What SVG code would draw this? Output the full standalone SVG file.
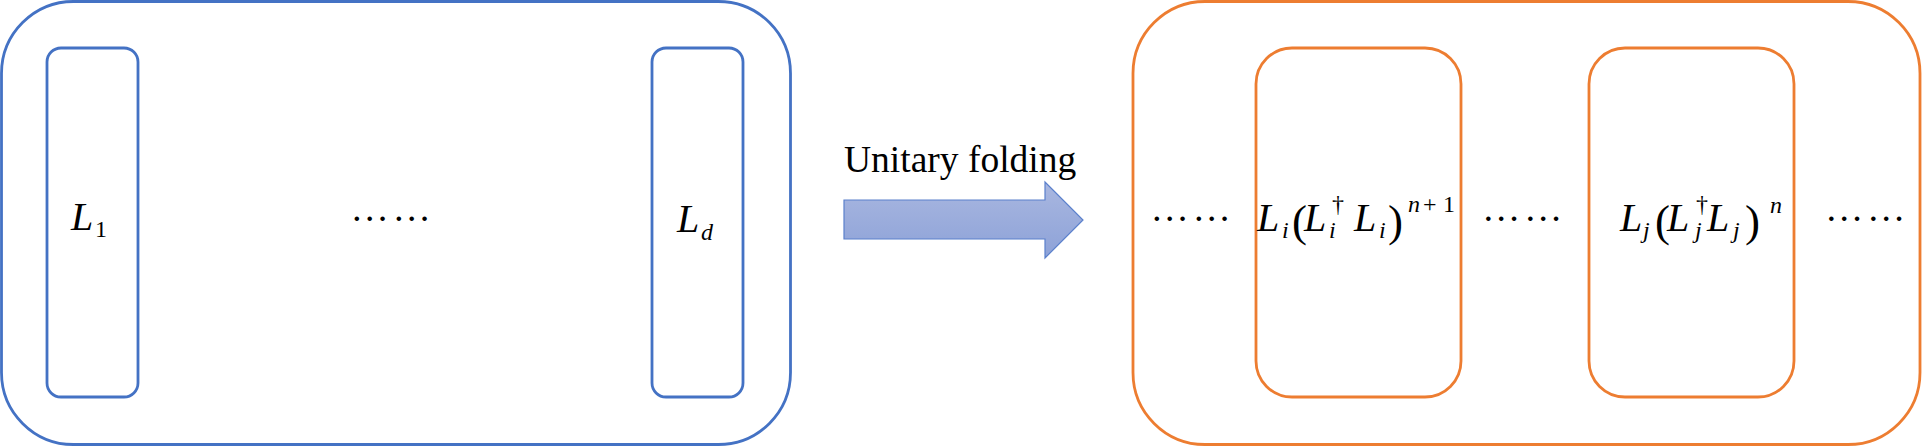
<svg xmlns="http://www.w3.org/2000/svg" width="1923" height="446" viewBox="0 0 1923 446">
<style>
.blue{fill:none;stroke:#4472C4;stroke-width:2.8}
.orange{fill:none;stroke:#ED7D31;stroke-width:2.8}
text{font-family:"Liberation Serif","Times New Roman",serif;fill:#000}
.it{font-style:italic}
.big{font-size:40px;font-style:italic}
.sub{font-size:24px}
.sup{font-size:24px}
.par{font-size:45px}
.dots{font-size:38.4px}
</style>
<defs>
<linearGradient id="ag" x1="0" y1="0" x2="0" y2="1">
<stop offset="0" stop-color="#A9B7E0"/>
<stop offset="1" stop-color="#8DA2D8"/>
</linearGradient>
</defs>
<rect x="0" y="0" width="1923" height="446" fill="#fff"/>
<g id="left-group">
<rect class="blue" x="1.5" y="1.5" width="789" height="443" rx="72" ry="72"/>
</g>
<g id="node-L1">
<rect class="blue" x="47" y="48" width="91" height="349" rx="14" ry="14"/>
<text><tspan class="big" x="71" y="230">L</tspan><tspan class="sub" x="95" y="237">1</tspan></text>
</g>
<g id="dots-left">
<text class="dots" x="350.6 392.6" y="221">……</text>
</g>
<g id="node-Ld">
<rect class="blue" x="652" y="48" width="91" height="349" rx="14" ry="14"/>
<text><tspan class="big" x="677" y="232">L</tspan><tspan class="sub it" x="701" y="240">d</tspan></text>
</g>
<g id="connectors">
<text x="844" y="172" style="font-size:37.5px">Unitary folding</text>
<path d="M844,200 H1045 V182 L1083,220 L1045,258 V239 H844 Z" fill="url(#ag)" stroke="#5B80CC" stroke-width="1.2"/>
</g>
<g id="right-group">
<rect class="orange" x="1133" y="1.5" width="787" height="443" rx="72" ry="72"/>
<text class="dots" x="1150.6 1192.6" y="221">……</text>
<text class="dots" x="1482 1524" y="221">……</text>
<text class="dots" x="1825 1867" y="221">……</text>
</g>
<g id="node-Li">
<rect class="orange" x="1256" y="48" width="205" height="349" rx="36" ry="36"/>
<text><tspan class="big" x="1257" y="231">L</tspan><tspan class="sub it" x="1282" y="238">i</tspan><tspan class="par" x="1292" y="236">(</tspan><tspan class="big" x="1304" y="231">L</tspan><tspan class="sup" x="1332" y="212">†</tspan><tspan class="sub it" x="1329" y="238">i</tspan><tspan class="big" x="1354" y="231">L</tspan><tspan class="sub it" x="1379" y="238">i</tspan><tspan class="par" x="1388" y="236">)</tspan><tspan class="sup it" x="1408" y="212">n</tspan><tspan class="sup" x="1423" y="212">+</tspan><tspan class="sup" x="1443" y="212">1</tspan></text>
</g>
<g id="node-Lj">
<rect class="orange" x="1589" y="48" width="205" height="349" rx="36" ry="36"/>
<text><tspan class="big" x="1620" y="231">L</tspan><tspan class="sub it" x="1643" y="238">j</tspan><tspan class="par" x="1655" y="236">(</tspan><tspan class="big" x="1667" y="231">L</tspan><tspan class="sup" x="1696" y="212">†</tspan><tspan class="sub it" x="1695" y="238">j</tspan><tspan class="big" x="1707" y="231">L</tspan><tspan class="sub it" x="1733" y="238">j</tspan><tspan class="par" x="1745" y="236">)</tspan><tspan class="sup it" x="1770" y="213">n</tspan></text>
</g>
</svg>
